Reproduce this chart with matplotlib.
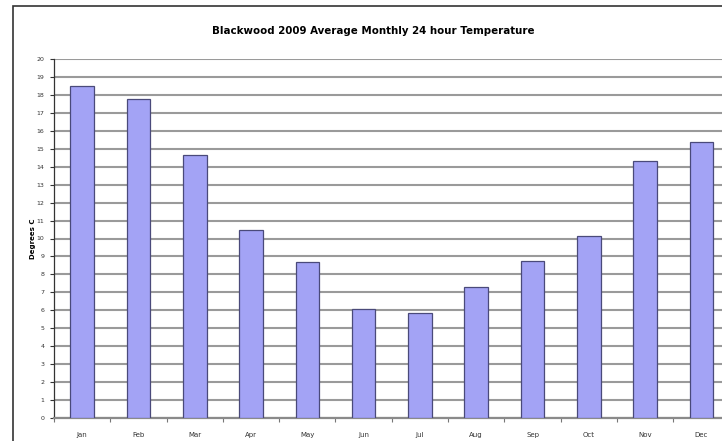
import matplotlib
matplotlib.use("Agg")
import matplotlib.pyplot as plt
from matplotlib.patches import Rectangle
import numpy as np

months = ["Jan", "Feb", "Mar", "Apr", "May", "Jun", "Jul", "Aug", "Sep", "Oct", "Nov", "Dec"]
temps = [18.5, 17.75, 14.65, 10.5, 8.7, 6.1, 5.87, 7.3, 8.75, 10.15, 14.3, 15.35]
yticks = list(range(0, 21))

W, H = 722, 441
fig = plt.figure(figsize=(W / 100, H / 100), dpi=100)
fig.patch.set_facecolor("white")

# outer chart-area frame (extends beyond the cropped image on right/bottom)
fig.patches.append(Rectangle((13 / W, -0.1), 1.2, (H - 6) / H + 0.1,
                             transform=fig.transFigure, fill=False,
                             edgecolor="#333333", linewidth=1.2))

left = 54 / W
right = (54 + 12 * 56.3) / W
bottom = 1 - 418 / H
top = 1 - 59 / H
ax = fig.add_axes([left, bottom, right - left, top - bottom])
ax.set_facecolor("white")

x = np.arange(len(months))
ax.bar(x, temps, width=0.42, color="#a3a3f5", edgecolor="#4a4a7a", linewidth=0.9, zorder=3)

ax.set_xlim(-0.5, len(months) - 0.5)
ax.set_ylim(0, 20)
ax.set_yticks(yticks)
ax.set_yticklabels([str(t) for t in yticks], fontsize=4.5, color="#333333")
ax.set_xticks(x)
ax.set_xticklabels(months, fontsize=5, color="#333333")
ax.tick_params(axis="x", length=0, pad=10)
ax.tick_params(axis="y", length=3, width=0.8, color="#333333", pad=4)

# category boundary ticks on x axis
ax.set_xticks(np.arange(-0.5, len(months), 1), minor=True)
ax.tick_params(axis="x", which="minor", length=3, width=0.8, color="#777777")

ax.yaxis.grid(True, color="#9a9a9a", linewidth=1.5, zorder=0)
for s in ["top", "right"]:
    ax.spines[s].set_visible(False)
ax.spines["left"].set_color("#333333")
ax.spines["left"].set_linewidth(0.9)
ax.spines["bottom"].set_color("#8a8a8a")
ax.spines["bottom"].set_linewidth(1.6)

ax.set_ylabel("Degrees C", fontsize=5, fontweight="bold", labelpad=0)

fig.text(373 / W, 1 - 31 / H, "Blackwood 2009 Average Monthly 24 hour Temperature",
         ha="center", va="center", fontsize=7.4, fontweight="bold")

fig.savefig("out.png", dpi=100)
